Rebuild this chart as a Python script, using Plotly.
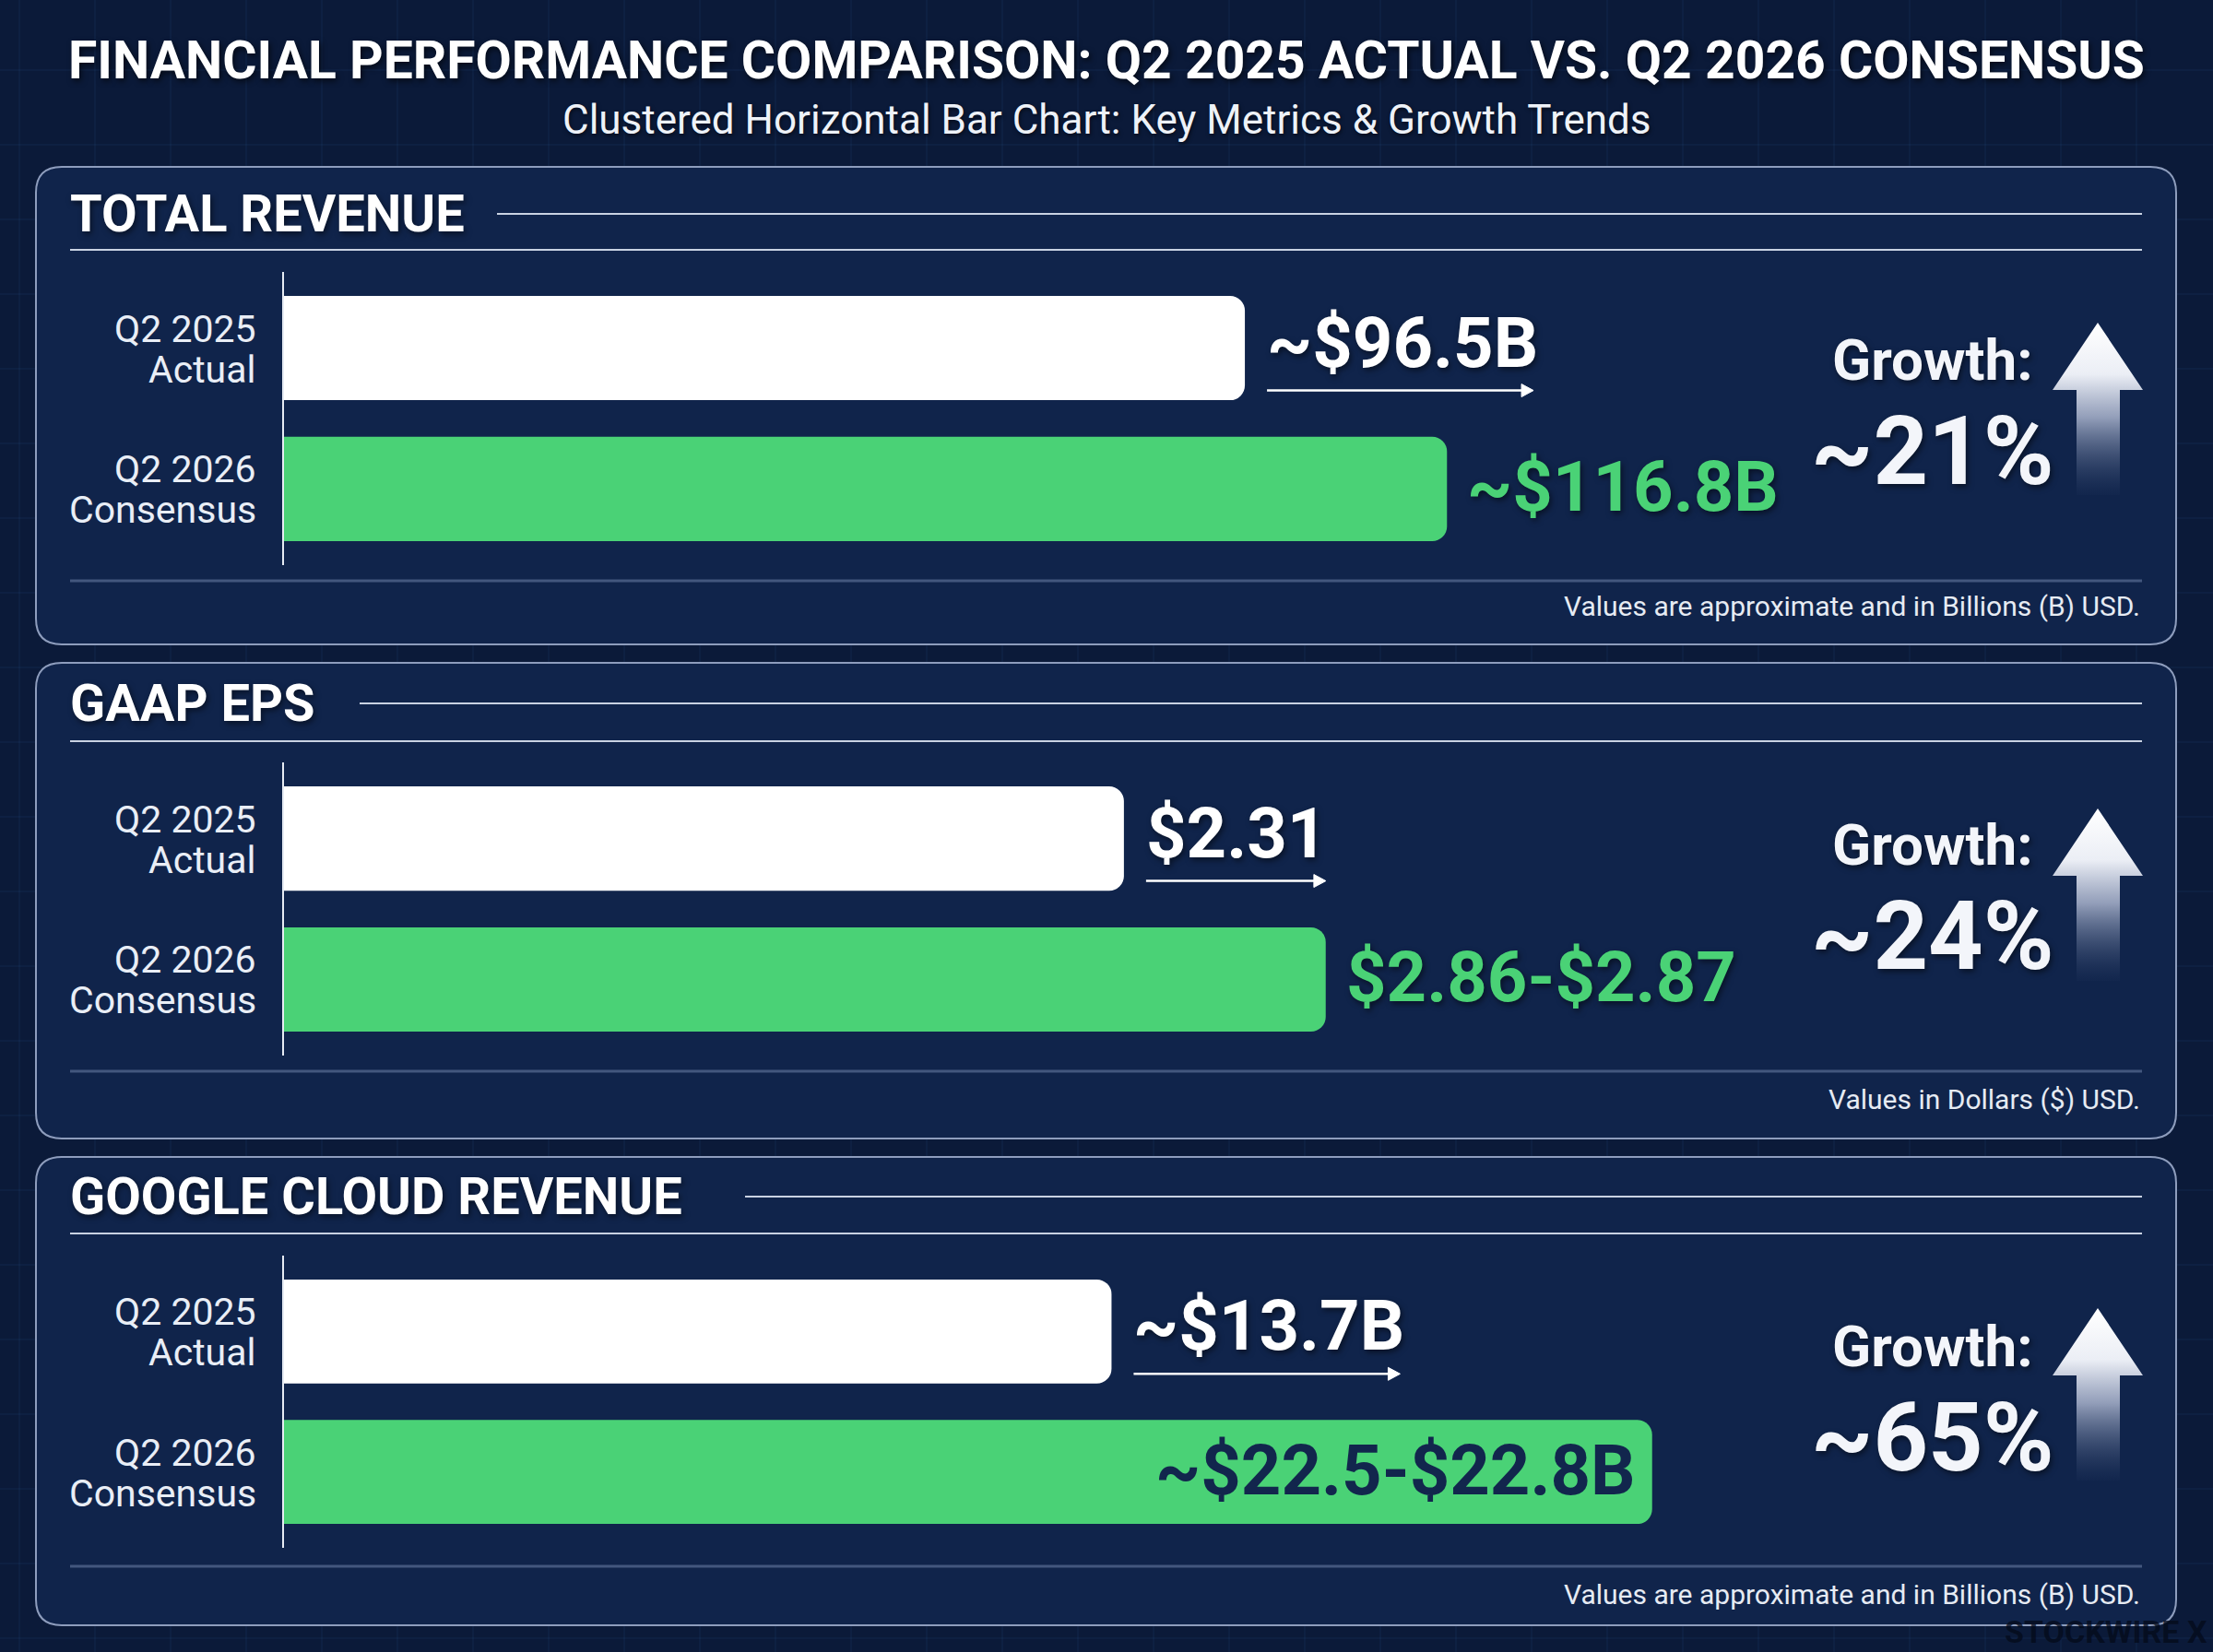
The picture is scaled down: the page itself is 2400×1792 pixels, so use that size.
import plotly.graph_objects as go

# ---------------- DATA ----------------
metrics = ["TOTAL REVENUE", "GAAP EPS", "GOOGLE CLOUD REVENUE"]
categories = ["Q2 2025 Actual", "Q2 2026 Consensus"]
category_lines = [["Q2 2025", "Actual"], ["Q2 2026", "Consensus"]]
actual_values = [96.5, 2.31, 13.7]
consensus_values = [116.8, 2.865, 22.65]
actual_text = ["~$96.5B", "$2.31", "~$13.7B"]
consensus_text = ["~$116.8B", "$2.86-$2.87", "~$22.5-$22.8B"]
growth_text = ["~21%", "~24%", "~65%"]
notes = [
    "Values are approximate and in Billions (B) USD.",
    "Values in Dollars ($) USD.",
    "Values are approximate and in Billions (B) USD.",
]
title_text = "FINANCIAL PERFORMANCE COMPARISON: Q2 2025 ACTUAL VS. Q2 2026 CONSENSUS"
subtitle_text = "Clustered Horizontal Bar Chart: Key Metrics & Growth Trends"

# ---------------- STYLE / LAYOUT ----------------
W, H = 2400, 1792
BG = "#0b1a39"
PANEL_FILL = "#10244b"
PANEL_BORDER = "#8e9dbd"
GREEN = "#4ad276"
WHITE = "#ffffff"
LABEL = "#e9eef6"
FONT = "Roboto"


def fx(x):
    return x / W


def fy(y):
    return 1 - y / H


# pixel layout per panel
panels = [
    dict(top=181, bottom=699, title_y=232, side_x=539, under_y=271, ax_top=295, ax_bot=613,
         sep_y=630, note_y=657, xmax=186.6, growth_y=452, arrow_top=350,
         arrow_len=289, inside=False),
    dict(top=719, bottom=1235, title_y=763, side_x=390, under_y=804, ax_top=827, ax_bot=1145,
         sep_y=1162, note_y=1192, xmax=5.11, growth_y=978, arrow_top=877,
         arrow_len=195, inside=False),
    dict(top=1255, bottom=1763, title_y=1298, side_x=808, under_y=1338, ax_top=1362, ax_bot=1679,
         sep_y=1699, note_y=1729, xmax=30.76, growth_y=1522, arrow_top=1419,
         arrow_len=289, inside=True),
]
PLOT_X0, PLOT_X1 = 308, 2323
LINE_X0, LINE_X1 = 76, 2323

fig = go.Figure()
shapes = []
annotations = []


def rrect(x0, y0, x1, y1, r):
    X0, X1, Y0, Y1 = fx(x0), fx(x1), fy(y0), fy(y1)
    rx, ry = r / W, r / H
    return (f"M {X0+rx},{Y0} L {X1-rx},{Y0} Q {X1},{Y0} {X1},{Y0-ry} "
            f"L {X1},{Y1+ry} Q {X1},{Y1} {X1-rx},{Y1} L {X0+rx},{Y1} "
            f"Q {X0},{Y1} {X0},{Y1+ry} L {X0},{Y0-ry} Q {X0},{Y0} {X0+rx},{Y0} Z")


# faint background grid
gx = 2317
while gx > 0:
    shapes.append(dict(type="line", xref="paper", yref="paper", x0=fx(gx), x1=fx(gx), y0=0, y1=1,
                       line=dict(color="rgba(70,120,200,0.13)", width=1), layer="below"))
    gx -= 82
gy = 76
while gy < H:
    shapes.append(dict(type="line", xref="paper", yref="paper", x0=0, x1=1, y0=fy(gy), y1=fy(gy),
                       line=dict(color="rgba(70,120,200,0.13)", width=1), layer="below"))
    gy += 81

# title
annotations.append(dict(text=f"<b>{title_text}</b>", x=0.5, y=fy(66), xref="paper", yref="paper",
                        showarrow=False, xanchor="center", yanchor="middle",
                        font=dict(family=FONT, size=57, color=WHITE,
                                  shadow="2px 3px 6px rgba(0,0,0,0.6)")))
annotations.append(dict(text=subtitle_text, x=0.5, y=fy(130), xref="paper", yref="paper",
                        showarrow=False, xanchor="center", yanchor="middle",
                        font=dict(family=FONT, size=44, color="#eef2f8",
                                  shadow="1px 2px 4px rgba(0,0,0,0.6)")))

layout_axes = {}
for i, p in enumerate(panels):
    n = "" if i == 0 else str(i + 1)
    xa, ya = "x" + n, "y" + n

    # panel
    shapes.append(dict(type="path", xref="paper", yref="paper",
                       path=rrect(39, p["top"], 2360, p["bottom"], 28),
                       fillcolor=PANEL_FILL, line=dict(color=PANEL_BORDER, width=2), layer="below"))
    # header lines
    shapes.append(dict(type="line", xref="paper", yref="paper", x0=fx(p["side_x"]), x1=fx(LINE_X1),
                       y0=fy(p["title_y"]), y1=fy(p["title_y"]),
                       line=dict(color="#c9d2e2", width=2), layer="below"))
    shapes.append(dict(type="line", xref="paper", yref="paper", x0=fx(LINE_X0), x1=fx(LINE_X1),
                       y0=fy(p["under_y"]), y1=fy(p["under_y"]),
                       line=dict(color="#c9d2e2", width=2), layer="below"))
    shapes.append(dict(type="line", xref="paper", yref="paper", x0=fx(LINE_X0), x1=fx(LINE_X1),
                       y0=fy(p["sep_y"]), y1=fy(p["sep_y"]),
                       line=dict(color="rgba(110,130,170,0.55)", width=3), layer="below"))

    # section title
    annotations.append(dict(text=f"<b>{metrics[i]}</b>", x=fx(LINE_X0 - 2), y=fy(p["title_y"]),
                            xref="paper", yref="paper", showarrow=False, xanchor="left",
                            yanchor="middle",
                            font=dict(family=FONT, size=56, color=WHITE,
                                      shadow="2px 3px 6px rgba(0,0,0,0.5)")))
    # note
    annotations.append(dict(text=notes[i], x=fx(LINE_X1), y=fy(p["note_y"]), xref="paper",
                            yref="paper", showarrow=False, xanchor="right", yanchor="middle",
                            font=dict(family=FONT, size=30, color="#e6ebf3")))

    # bars
    fig.add_trace(go.Bar(
        y=categories, x=[actual_values[i], consensus_values[i]], orientation="h",
        marker=dict(color=[WHITE, GREEN], line=dict(width=0), cornerradius=16),
        width=0.74, xaxis=xa, yaxis=ya, hoverinfo="skip", showlegend=False))

    layout_axes["xaxis" + n] = dict(domain=[fx(PLOT_X0), fx(PLOT_X1)], range=[0, p["xmax"]],
                                    visible=False, anchor=ya, fixedrange=True)
    layout_axes["yaxis" + n] = dict(domain=[fy(p["ax_bot"]), fy(p["ax_top"])],
                                    range=[1.54, -0.54], type="category",
                                    categoryorder="array", categoryarray=categories,
                                    showticklabels=False, showgrid=False, zeroline=False,
                                    showline=True, linecolor="#e6ebf3", linewidth=2,
                                    anchor=xa, fixedrange=True)

    # category labels (two lines each)
    for c, lines in zip(categories, category_lines):
        for line_txt, shift in zip(lines, [21, -23]):
            annotations.append(dict(text=line_txt, x=fx(280), y=c, xref="paper", yref=ya,
                                    showarrow=False, xanchor="right", yanchor="middle",
                                    yshift=shift, font=dict(family=FONT, size=41, color=LABEL)))

    # value labels
    annotations.append(dict(text=f"<b>{actual_text[i]}</b>", x=actual_values[i], y=categories[0],
                            xref=xa, yref=ya, showarrow=False, xanchor="left", yanchor="middle",
                            xshift=22, yshift=6,
                            font=dict(family=FONT, size=76, color=WHITE,
                                      shadow="2px 3px 6px rgba(0,0,0,0.5)")))
    # small arrow beneath actual label (shape anchored at the bar end)
    L = p["arrow_len"]
    shapes.append(dict(type="line", xref=xa, yref=ya, xsizemode="pixel", ysizemode="pixel",
                       xanchor=actual_values[i], yanchor=0, x0=24, x1=24 + L - 4, y0=-46, y1=-46,
                       line=dict(color=WHITE, width=2.5)))
    shapes.append(dict(type="path", xref=xa, yref=ya, xsizemode="pixel", ysizemode="pixel",
                       xanchor=actual_values[i], yanchor=0,
                       path=f"M {24 + L - 13},-39 L {24 + L},-46 L {24 + L - 13},-53 Z",
                       fillcolor=WHITE, line=dict(color=WHITE, width=1)))
    if p["inside"]:
        annotations.append(dict(text=f"<b>{consensus_text[i]}</b>", x=consensus_values[i],
                                y=categories[1], xref=xa, yref=ya, showarrow=False,
                                xanchor="right", yanchor="middle", xshift=-16, yshift=2,
                                font=dict(family=FONT, size=76, color="#12264d")))
    else:
        annotations.append(dict(text=f"<b>{consensus_text[i]}</b>", x=consensus_values[i],
                                y=categories[1], xref=xa, yref=ya, showarrow=False,
                                xanchor="left", yanchor="middle", xshift=20, yshift=2,
                                font=dict(family=FONT, size=76, color=GREEN,
                                          shadow="2px 3px 6px rgba(0,0,0,0.5)")))

    # growth block: one two-line text
    annotations.append(dict(
        text=(f"<span style='font-size:62px'><b>Growth:</b></span><br>"
              f"<span style='font-size:104px'><b>{growth_text[i]}</b></span>"),
        x=fx(2096), y=fy(p["growth_y"]), xref="paper", yref="paper", showarrow=False,
        xanchor="center", yanchor="middle", align="center",
        font=dict(family=FONT, size=87, color="#f3f5fa",
                  shadow="2px 3px 6px rgba(0,0,0,0.5)")))

    # big gradient arrow (decoration on pixel overlay axes)
    a = p["arrow_top"]
    ax_pts = [2275, 2324, 2299, 2299, 2252, 2252, 2226, 2275]
    ay_pts = [a, a + 73, a + 73, a + 187, a + 187, a + 73, a + 73, a]
    fig.add_trace(go.Scatter(
        x=ax_pts, y=ay_pts, xaxis="x4", yaxis="y4", mode="lines", fill="toself",
        line=dict(width=0, color="rgba(0,0,0,0)"),
        fillgradient=dict(type="vertical", start=a + 187, stop=a,
                          colorscale=[[0, "rgba(60,80,120,0.05)"], [0.45, "rgba(170,180,205,0.85)"],
                                      [0.7, "rgba(235,238,245,1)"], [1, "#ffffff"]]),
        hoverinfo="skip", showlegend=False))

# watermark
annotations.append(dict(text="<b>STOCKWIRE X</b>", x=fx(2396), y=fy(1770), xref="paper",
                        yref="paper", showarrow=False, xanchor="right", yanchor="middle",
                        font=dict(family=FONT, size=34, color="rgba(4,10,26,0.75)")))

fig.update_layout(
    width=W, height=H, margin=dict(l=0, r=0, t=0, b=0),
    paper_bgcolor=BG, plot_bgcolor="rgba(0,0,0,0)",
    shapes=shapes, annotations=annotations, showlegend=False,
    bargap=0.2,
    xaxis4=dict(domain=[0, 1], range=[0, W], visible=False, fixedrange=True, anchor="y4"),
    yaxis4=dict(domain=[0, 1], range=[H, 0], visible=False, fixedrange=True, anchor="x4"),
    **layout_axes,
)

fig.write_html("out.html")
